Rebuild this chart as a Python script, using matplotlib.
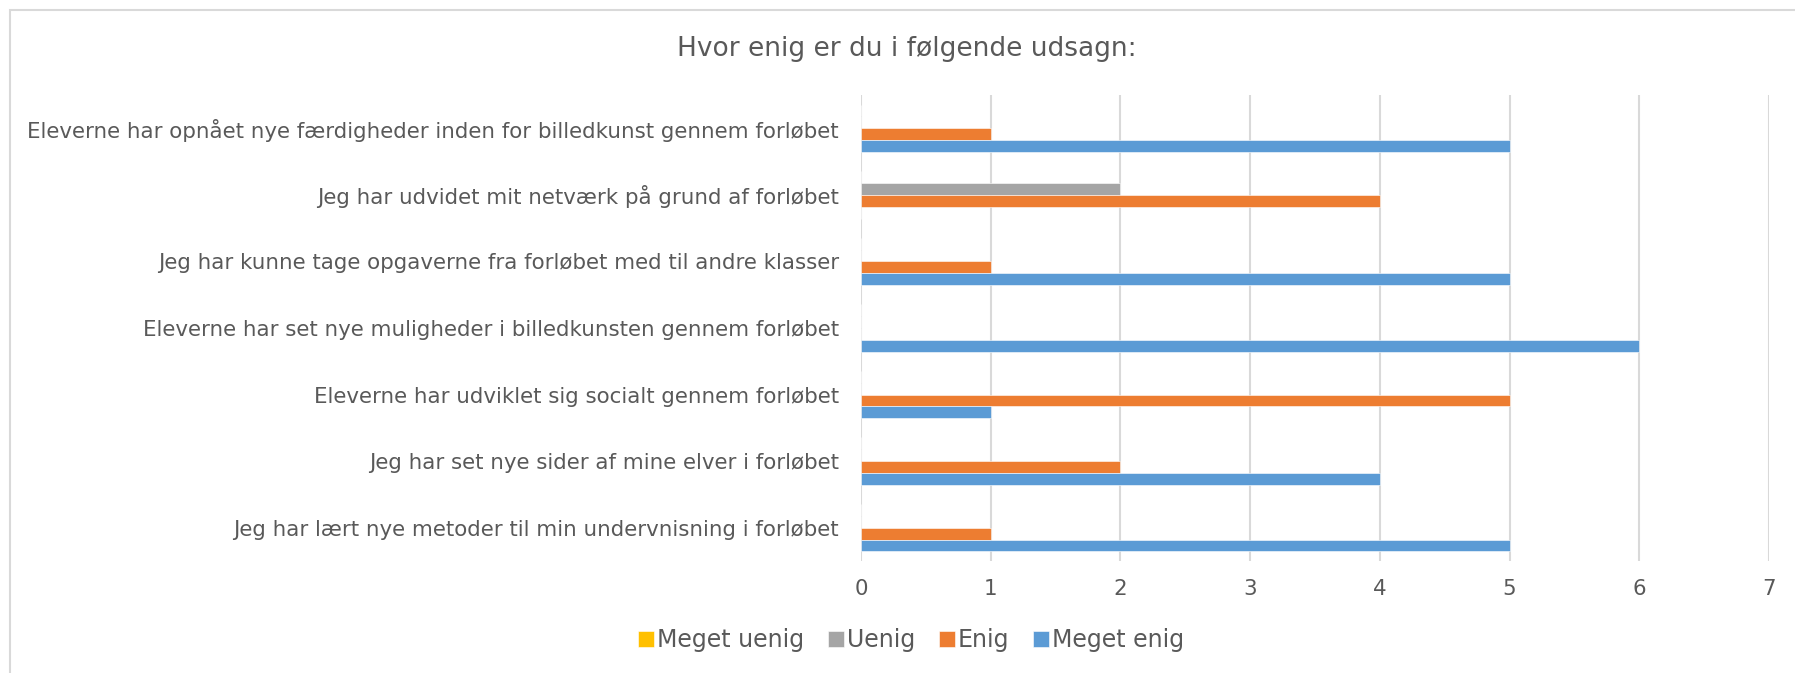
import matplotlib
matplotlib.use("Agg")
import matplotlib.pyplot as plt
from matplotlib.patches import Rectangle
import numpy as np

categories = [
    "Eleverne har opnået nye færdigheder inden for billedkunst gennem forløbet",
    "Jeg har udvidet mit netværk på grund af forløbet",
    "Jeg har kunne tage opgaverne fra forløbet med til andre klasser",
    "Eleverne har set nye muligheder i billedkunsten gennem forløbet",
    "Eleverne har udviklet sig socialt gennem forløbet",
    "Jeg har set nye sider af mine elver i forløbet",
    "Jeg har lært nye metoder til min undervnisning i forløbet",
]
series_names = ["Meget uenig", "Uenig", "Enig", "Meget enig"]
meget_uenig = [0, 0, 0, 0, 0, 0, 0]
uenig = [0, 2, 0, 0, 0, 0, 0]
enig = [1, 4, 1, 0, 5, 2, 1]
meget_enig = [5, 0, 5, 6, 1, 4, 5]
x_ticks = [0, 1, 2, 3, 4, 5, 6, 7]

colors = ["#FFC000", "#A5A5A5", "#ED7D31", "#5B9BD5"]
text_color = "#595959"
grid_color = "#D9D9D9"

W, H = 1795, 673
fig = plt.figure(figsize=(W / 100, H / 100), dpi=100)
fig.patch.set_facecolor("white")

# outer chart border
fig.patches.append(Rectangle((10 / W, -0.05), 1.2, 1 - 10 / H + 0.05, transform=fig.transFigure,
                             fill=False, edgecolor=grid_color, linewidth=1.5))

ax_left, ax_right = 861, 1769
ax_top, ax_bottom = 95, 561
ax = fig.add_axes([ax_left / W, 1 - ax_bottom / H, (ax_right - ax_left) / W, (ax_bottom - ax_top) / H])

n = len(categories)
ypos = np.arange(n)[::-1]
h = 0.178
all_series = [meget_uenig, uenig, enig, meget_enig]
offsets = [1.5 * h, 0.5 * h, -0.5 * h, -1.5 * h]
for vals, name, col, off in zip(all_series, series_names, colors, offsets):
    ax.barh(ypos + off, vals, height=h, color=col, label=name, edgecolor="white", linewidth=0.4, zorder=3)

ax.set_xlim(0, 7)
ax.set_ylim(-0.5, n - 0.5)
ax.set_xticks(x_ticks)
ax.set_xticklabels([str(t) for t in x_ticks])
ax.set_yticks(ypos)
ax.set_yticklabels(categories)
for s in ax.spines.values():
    s.set_visible(False)
ax.grid(axis="x", color=grid_color, linewidth=1.5, zorder=0)
ax.tick_params(axis="both", length=0, colors=text_color, labelsize=15.4)
ax.tick_params(axis="y", pad=16)
ax.tick_params(axis="x", pad=13)

fig.text(907 / W, 1 - 49 / H, "Hvor enig er du i følgende udsagn:", ha="center", va="center",
         fontsize=19, color=text_color)

handles, labels = ax.get_legend_handles_labels()
leg = fig.legend(handles, labels, loc="center", bbox_to_anchor=(911 / W, 1 - 640 / H), ncol=4,
                 frameon=False, fontsize=17, handlelength=0.68, handleheight=0.68,
                 handletextpad=0.12, columnspacing=1.0, labelcolor=text_color)

fig.savefig("out.png", dpi=100, facecolor="white")
